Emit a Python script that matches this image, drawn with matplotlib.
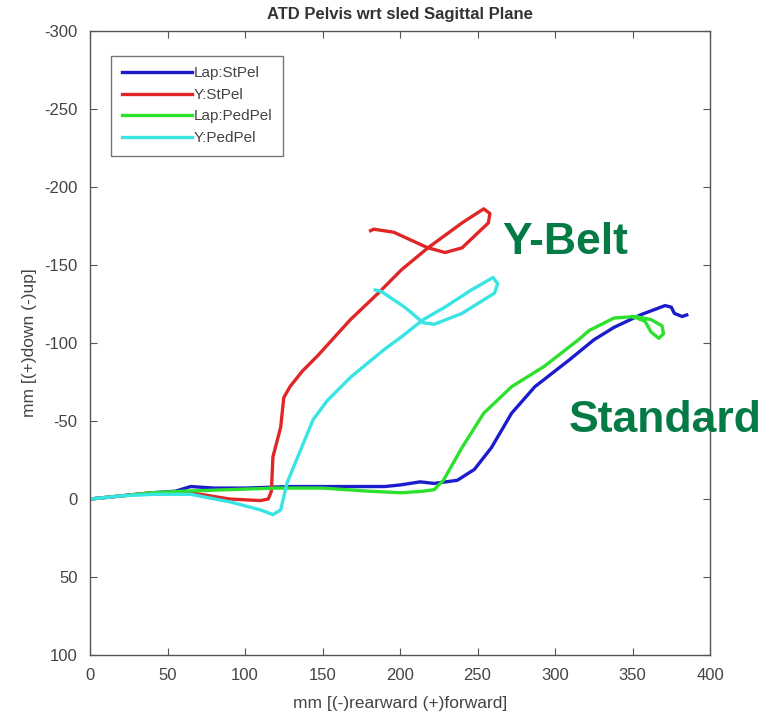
import numpy as np
import matplotlib
matplotlib.use("Agg")
import matplotlib.pyplot as plt

plt.rcParams["font.family"] = ["Liberation Sans", "DejaVu Sans"]
plt.rcParams["axes.unicode_minus"] = False

# Lap:StPel (blue)
lap_st_x = [0, 20, 40, 55, 65, 80, 100, 130, 160, 190, 200, 213, 222, 237, 248, 259, 272,
            287, 309, 325, 338, 355, 371, 375, 377, 382, 385]
lap_st_y = [0, -2, -4, -5, -8, -7, -7, -8, -8, -8, -9, -11, -10, -12, -19, -33, -55,
            -72, -89, -102, -110, -118, -124, -123, -119, -117, -118]

# Y:StPel (red)
y_st_x = [0, 20, 40, 65, 90, 110, 115, 117, 118, 123, 125, 129, 137, 147, 168, 186, 201, 218,
          240, 254, 258, 257, 240, 229, 222, 218, 207, 196, 183, 181]
y_st_y = [0, -2, -4, -4, 0, 1, 0, -5, -27, -46, -65, -72, -82, -92, -115, -132, -147, -161,
          -177, -186, -183, -177, -161, -158, -160, -161, -166, -171, -173, -172]

# Lap:PedPel (green)
lap_ped_x = [0, 20, 40, 60, 90, 120, 150, 180, 201, 215, 222, 228, 240, 254, 272, 293, 315,
             322, 338, 352, 362, 369, 370, 367, 362, 358, 350]
lap_ped_y = [0, -2, -4, -5, -6, -7, -7, -5, -4, -5, -6, -12, -33, -55, -72, -85, -102,
             -108, -116, -117, -115, -111, -106, -103, -107, -114, -117]

# Y:PedPel (cyan)
y_ped_x = [0, 20, 40, 65, 91, 110, 118, 123, 127, 134, 144, 153, 168, 190, 201, 215, 229,
           246, 260, 263, 261, 240, 222, 215, 203, 188, 184]
y_ped_y = [0, -2, -3, -3, 2, 7, 10, 7, -10, -27, -51, -63, -78, -96, -104, -115, -123,
           -134, -142, -138, -132, -119, -112, -113, -123, -133, -134]

labels = ["Lap:StPel", "Y:StPel", "Lap:PedPel", "Y:PedPel"]
colors = ["#1c1ccc", "#e02626", "#2ee02e", "#38e4e4"]

fig = plt.figure(figsize=(7.61, 7.15), dpi=100)
ax = fig.add_axes([0.1183, 0.0839, 0.8147, 0.8727])

series = [(lap_st_x, lap_st_y), (y_st_x, y_st_y), (lap_ped_x, lap_ped_y), (y_ped_x, y_ped_y)]
for (xs, ys), lab, col in zip(series, labels, colors):
    ax.plot(xs, ys, color=col, lw=2.4, label=lab, solid_joinstyle="round")

ax.set_xlim(0, 400)
ax.set_ylim(100, -300)
ax.set_xticks(np.arange(0, 401, 50))
ax.set_yticks(np.arange(-300, 101, 50))
ax.tick_params(direction="in", top=True, right=True, labelsize=12, colors="#555555",
               length=5)
ax.tick_params(axis="x", pad=9)
ax.tick_params(axis="y", pad=9)
for sp in ax.spines.values():
    sp.set_color("#555555")
    sp.set_linewidth(1.0)
for t in ax.get_xticklabels() + ax.get_yticklabels():
    t.set_color("#444444")

ax.set_xlabel("mm [(-)rearward (+)forward]", fontsize=12.5, color="#444444", labelpad=10)
ax.set_ylabel("mm [(+)down (-)up]", fontsize=12.5, color="#444444", labelpad=5)
ax.set_title("ATD Pelvis wrt sled Sagittal Plane", fontsize=12, fontweight="bold",
             color="#333333", pad=9)

leg = ax.legend(loc="upper left", bbox_to_anchor=(0.022, 0.973), fontsize=11,
                frameon=True, fancybox=False, handlelength=4.6, handletextpad=0.1,
                borderpad=0.7, labelspacing=0.5, labelcolor="#444444")
leg.get_frame().set_edgecolor("#555555")
leg.get_frame().set_linewidth(1.0)

fig.text(565 / 761, 1 - 242 / 715, "Y-Belt", fontsize=32, fontweight="bold",
         color="#047a45", ha="center", va="center")
fig.text(665 / 761, 1 - 420 / 715, "Standard", fontsize=32, fontweight="bold",
         color="#047a45", ha="center", va="center")

fig.savefig("out.png", dpi=100)
